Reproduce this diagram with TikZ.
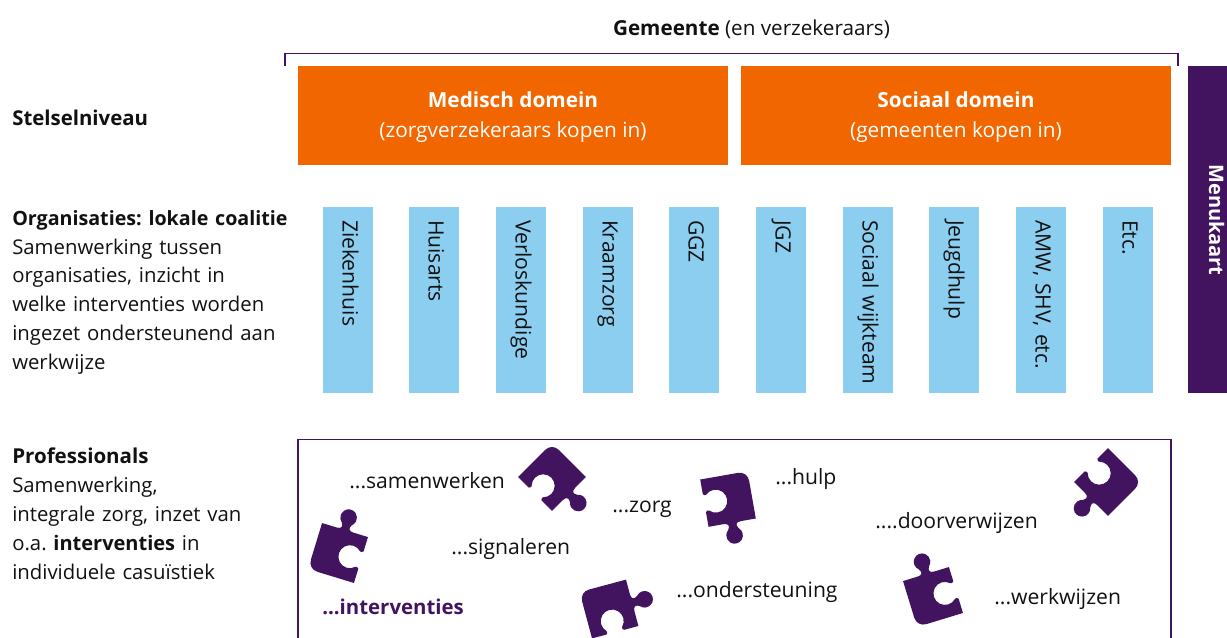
\documentclass[tikz,border=0pt]{standalone}
\usepackage{fontspec}
\setmainfont{Open Sans}
\frenchspacing
\definecolor{rpurple}{HTML}{42145F}
\definecolor{rorange}{HTML}{F26600}
\definecolor{rblue}{HTML}{8CCEF0}
\definecolor{rtext}{HTML}{111111}
\newcommand\bodyfont{\fontsize{15.25pt}{21.6pt}\selectfont}
\newcommand\wordfont{\fontsize{15.85pt}{21.6pt}\selectfont}
\newcommand\headfont{\fontsize{15.6pt}{22.5pt}\selectfont}
\newcommand\topfont{\fontsize{15.5pt}{21.6pt}\selectfont}
\newcommand\lb[2][15pt]{{\fontsize{#1}{21.6pt}\selectfont\bfseries #2}}
\newcommand\puzzle[3]{%
 \begin{scope}[shift={(#1,#2)},x=.75pt,y=.75pt,rotate=#3]
  \fill[rpurple] (-24,24) -- (14,24) .. controls (20,24) and (24,20) .. (24,14) -- (24,-24) -- (9,-24)
   .. controls (4,-24) and (2.5,-26.5) .. (5.5,-30.6) arc[start angle=50,end angle=-230,radius=8.3]
   .. controls (-2.5,-26.5) and (-4,-24) .. (-9,-24) -- (-24,-24) -- (-24,-9)
   .. controls (-22.5,-7.5) and (-21.5,-7.5) .. (-20.6,-8.1) arc[start angle=-135,end angle=135,radius=11.5]
   .. controls (-21.5,7.5) and (-22.5,7.5) .. (-24,9) -- cycle;
 \end{scope}}
\tikzset{
 lbl/.style={anchor=north west,inner sep=0pt,align=left,text=rtext,font=\bodyfont,text width=290*.75pt},
 domainbox/.style={fill=rorange,draw=none,minimum width=430*.75pt,minimum height=99*.75pt,inner sep=0pt,text=white,align=center,font=\headfont},
 orgbar/.style={fill=rblue,draw=none,rotate=-90,minimum width=186*.75pt,minimum height=50*.75pt,inner xsep=13*.75pt,inner ysep=0pt,text width=160*.75pt,align=left,text=rtext,font=\wordfont,text height=11pt,text depth=3pt},
 word/.style={anchor=base west,inner sep=0pt,text=rtext,font=\wordfont},
 frameline/.style={draw=rpurple,line width=.9pt}
}
\begin{document}
\begin{tikzpicture}[x=.75pt,y=-.75pt]
\clip (0,0) rectangle (1227,637);
\node[inner sep=0pt,text=rtext,font=\topfont] (top) at (751.5,29.5) {\textbf{Gemeente} (en verzekeraars)};
\draw[frameline] (285,66) -- (285,53.5) -- (1178,53.5) -- (1178,66);
\node[domainbox] (med) at (513,115.5) {\rule{0pt}{13.6pt}\textbf{Medisch domein}\\(zorgverzekeraars kopen in)};
\node[domainbox] (soc) at (956,115.5) {\rule{0pt}{13.6pt}\textbf{Sociaal domein}\\(gemeenten kopen in)};
\fill[rpurple] (1188,66) rectangle (1227,393);
\node[rotate=-90,inner sep=0pt,text=white,font=\fontsize{15pt}{20pt}\selectfont\bfseries] (menu) at (1216.5,220) {Menukaart};
\node[lbl] (l1) at (12,110) {\lb[15.3pt]{Stelselniveau}};
\node[lbl] (l2) at (12,210) {\lb[14.75pt]{Organisaties: lokale coalitie}\\Samenwerking tussen\\organisaties, inzicht in\\welke interventies worden\\ingezet ondersteunend aan\\werkwijze};
\node[lbl] (l3) at (12,448) {\lb[15.4pt]{Professionals}\\Samenwerking,\\integrale zorg, inzet van\\o.a. \lb{interventies} in\\individuele casuïstiek};
\node[orgbar] (b1) at (348,300) {Ziekenhuis};
\node[orgbar] (b2) at (434,300) {Huisarts};
\node[orgbar] (b3) at (521,300) {Verloskundige};
\node[orgbar] (b4) at (608,300) {Kraamzorg};
\node[orgbar] (b5) at (694,300) {GGZ};
\node[orgbar] (b6) at (781,300) {JGZ};
\node[orgbar] (b7) at (868,300) {\mbox{Sociaal wijkteam}};
\node[orgbar] (b8) at (954,300) {Jeugdhulp};
\node[orgbar] (b9) at (1041,300) {AMW, SHV, etc.};
\node[orgbar] (b10) at (1128,300) {Etc.};
\draw[frameline] (298,645) -- (298,439.5) -- (1171,439.5) -- (1171,645);
\puzzle{552}{477}{45}
\puzzle{338}{553}{163}
\puzzle{728}{499}{10}
\puzzle{609}{609}{105}
\puzzle{1108}{482}{-45}
\puzzle{933}{597}{197}
\node[word] (w1) at (349,488) {...samenwerken};
\node[word] (w2) at (612,512) {...zorg};
\node[word] (w3) at (775,484) {...hulp};
\node[word] (w4) at (875,528) {....doorverwijzen};
\node[word] (w5) at (451,554) {...signaleren};
\node[word,text=rpurple,font=\fontsize{15.3pt}{20pt}\selectfont\bfseries] (w6) at (322,614) {...interventies};
\node[word] (w7) at (676,597) {...ondersteuning};
\node[word] (w8) at (994,604) {...werkwijzen};
\end{tikzpicture}
\end{document}
